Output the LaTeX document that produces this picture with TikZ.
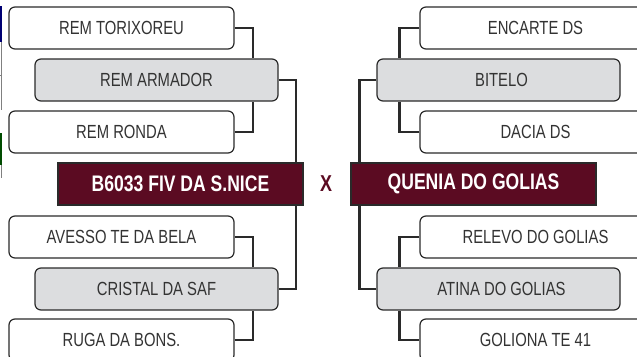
\documentclass[tikz,border=0pt]{standalone}
\usepackage{fontspec}
\setmainfont[FakeStretch=0.78]{Liberation Sans}
\usetikzlibrary{calc}
\definecolor{vinho}{HTML}{5B0B22}
\definecolor{cinza}{HTML}{DCDDDF}
\definecolor{traco}{HTML}{2A2A2A}
\definecolor{texto}{HTML}{333333}
\tikzset{
  timebox/.style={draw=traco, line width=1.2pt, rounded corners=6pt, fill=white,
    minimum width=225pt, minimum height=42pt, inner sep=0pt, text=texto,
    font=\fontsize{19}{19}\selectfont},
  cinzabox/.style={timebox, fill=cinza, minimum width=243pt},
  finalbox/.style={draw=traco, line width=1.2pt, fill=vinho, text=white,
    minimum width=245pt, minimum height=42pt, inner sep=0pt,
    font=\fontsize{22.5}{22.5}\selectfont\bfseries},
  link/.style={draw=traco, line width=2.2pt}
}
\begin{document}
\begin{tikzpicture}[x=1pt,y=-1pt]
\useasboundingbox (0,0) rectangle (637,356);
\clip (0,0) rectangle (637,356);
% restos da margem esquerda
\fill[blue!45!black] (0,6) rectangle (2,42);
\fill[green!30!black] (0,133) rectangle (2,165);
\draw[gray, line width=0.6pt] (1,42)--(1,110) (0,75)--(2,75) (1,165)--(1,178);
% lado esquerdo
\node[timebox] (torixoreu) at (121.5,28) {REM TORIXOREU\hspace{8pt}};
\node[cinzabox] (armador) at (156.5,80) {REM ARMADOR\hspace{8pt}};
\node[timebox] (ronda) at (121.5,132) {REM RONDA\hspace{8pt}};
\node[finalbox] (fiv) at (180.5,184) {B6033 FIV DA S.NICE\hspace{6pt}};
\node[timebox] (avesso) at (121.5,237) {AVESSO TE DA BELA\hspace{8pt}};
\node[cinzabox] (cristal) at (156.5,289) {CRISTAL DA SAF\hspace{8pt}};
\node[timebox] (ruga) at (121.5,340) {RUGA DA BONS.\hspace{8pt}};
% lado direito
\node[timebox] (encarte) at (532.5,28) {\hspace{6pt}ENCARTE DS};
\node[cinzabox] (bitelo) at (498.5,80) {\hspace{6pt}BITELO};
\node[timebox] (dacia) at (532.5,132) {\hspace{6pt}DACIA DS};
\node[finalbox] (quenia) at (473.5,184) {QUENIA DO GOLIAS};
\node[timebox] (relevo) at (532.5,237) {\hspace{6pt}RELEVO DO GOLIAS};
\node[cinzabox] (atina) at (498.5,289) {\hspace{6pt}ATINA DO GOLIAS};
\node[timebox] (goliona) at (532.5,340) {\hspace{6pt}GOLIONA TE 41};
\node[text=vinho, font=\fontsize{23}{23}\selectfont\bfseries] (vs) at (326,184) {X};
% chaves
\draw[link] (torixoreu.east) -- ++(18,0) coordinate (t1) -- (t1 |- armador.north);
\draw[link] (ronda.east) -- ++(18,0) coordinate (r1) -- (r1 |- armador.south);
\draw[link] (armador.east) -- ++(17,0) coordinate (a1) -- (a1 |- fiv.north);
\draw[link] (avesso.east) -- ++(18,0) coordinate (v1) -- (v1 |- cristal.north);
\draw[link] (ruga.east) -- ++(18,0) coordinate (g1) -- (g1 |- cristal.south);
\draw[link] (cristal.east) -- ++(17,0) coordinate (c1) -- (c1 |- fiv.south);
\draw[link] (encarte.west) -- ++(-20,0) coordinate (e1) -- (e1 |- bitelo.north);
\draw[link] (dacia.west) -- ++(-20,0) coordinate (d1) -- (d1 |- bitelo.south);
\draw[link] (bitelo.west) -- ++(-17,0) coordinate (b1) -- (b1 |- quenia.north);
\draw[link] (relevo.west) -- ++(-20,0) coordinate (l1) -- (l1 |- atina.north);
\draw[link] (goliona.west) -- ++(-20,0) coordinate (o1) -- (o1 |- atina.south);
\draw[link] (atina.west) -- ++(-17,0) coordinate (n1) -- (n1 |- quenia.south);
\end{tikzpicture}
\end{document}
